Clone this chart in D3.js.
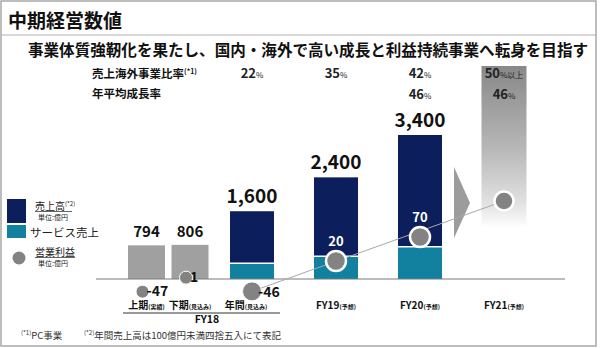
<!DOCTYPE html>
<html><head><meta charset="utf-8">
<script src="https://cdn.jsdelivr.net/npm/d3@7"></script>
<style>
body{margin:0;background:#fff}
svg{display:block}
text{font-family:"Noto Sans CJK JP","Noto Sans",sans-serif}
</style>
</head><body>
<svg id="c" width="600" height="348"></svg>
<script>
// ---------- data ----------
const title = "中期経営数値";
const subtitle = "事業体質強靭化を果たし、国内・海外で高い成長と利益持続事業へ転身を目指す";
const halfLabels = ["上期", "下期"];
const halfNotes = ["(実績)", "(見込み)"];
const halfSales = [794, 806];
const halfProfit = [-47, 1];
const years = ["FY18", "FY19", "FY20", "FY21"];
const yearLabels = ["年間", "FY19", "FY20", "FY21"];
const yearNotes = ["(見込み)", "(予想)", "(予想)", "(予想)"];
const yearSales = [1600, 2400, 3400, null];
const serviceSales = [370, 540, 760, null];
const yearProfit = [-46, 20, 70, 130];
const overseasRatio = [22, 35, 42, 50];
const overseasSuffix = ["%", "%", "%", "%以上"];
const cagr = [null, null, 46, 46];
const footnote1 = "PC事業";
const footnote2 = "年間売上高は100億円未満四捨五入にて表記";

// ---------- colors ----------
const NAVY = "#0c1f5c", TEAL = "#12819f", GRAYBAR = "#a0a0a0", DOT = "#838383";

const svg = d3.select("#c");
const defs = svg.append("defs");
const grad = defs.append("linearGradient").attr("id", "g21")
  .attr("x1", 0).attr("y1", 0).attr("x2", 0).attr("y2", 1);
[[0, "#888888"], [0.5, "#b6b6b6"], [0.85, "#e2e2e2"], [1, "#ffffff"]]
  .forEach(([o, c]) => grad.append("stop").attr("offset", o).attr("stop-color", c));

// frame & title
svg.append("rect").attr("x", 1).attr("y", 1).attr("width", 595).attr("height", 345)
  .attr("fill", "none").attr("stroke", "#a8a8a8").attr("stroke-width", 1.5);
svg.append("text").attr("x", 8).attr("y", 28).attr("font-size", 19).attr("font-weight", 700)
  .attr("fill", "#111").text(title);
svg.append("line").attr("x1", 1).attr("x2", 596).attr("y1", 35).attr("y2", 35)
  .attr("stroke", "#b0b0b0").attr("stroke-width", 1);
svg.append("text").attr("x", 28).attr("y", 56).attr("font-size", 15.5).attr("font-weight", 700)
  .attr("fill", "#111").attr("textLength", 560).attr("lengthAdjust", "spacingAndGlyphs").text(subtitle);

// ---------- scales ----------
const x = d3.scalePoint().domain(years).range([252, 504]);
const xHalf = d3.scalePoint().domain(halfLabels).range([146.5, 190]);
const y = d3.scaleLinear().domain([0, 3400]).range([279, 135]);
const yP = d3.scaleLinear().domain([-50, 0, 20, 70, 130]).range([292.5, 278.5, 261, 237, 201]);
const bw = 44, hbw = 37;
const fmt = d3.format(",");

// FY21 gradient column
svg.append("rect").attr("x", x("FY21") - 22.5).attr("y", 66).attr("width", 45).attr("height", 162)
  .attr("fill", "url(#g21)");

// header rows
svg.append("text").attr("x", 92).attr("y", 78).attr("font-size", 11.5).attr("font-weight", 700)
  .attr("fill", "#111").text("売上海外事業比率")
  .append("tspan").attr("font-size", 7).attr("dy", -4).text("(*1)");
svg.append("text").attr("x", 92).attr("y", 98).attr("font-size", 11.5).attr("font-weight", 700)
  .attr("fill", "#111").text("年平均成長率");

function pct(g, xc, yb, val, suf) {
  const t = g.append("text").attr("x", xc).attr("y", yb).attr("text-anchor", "middle")
    .attr("font-weight", 700).attr("fill", "#222");
  t.append("tspan").attr("font-size", 13).text(val);
  t.append("tspan").attr("font-size", 8).attr("font-weight", 400).text(suf);
}
years.forEach((yr, i) => {
  pct(svg, x(yr), 78, overseasRatio[i], overseasSuffix[i]);
  if (cagr[i] != null) pct(svg, x(yr), 99, cagr[i], "%");
});

// arrow triangle
const ax = (x("FY20") + x("FY21")) / 2 + 1;
svg.append("path").attr("d", `M${ax - 9},167 L${ax + 7},203 L${ax - 9},238 Z`).attr("fill", "#9c9c9c");

// half-year bars
halfSales.forEach((v, i) => {
  const cx = xHalf(halfLabels[i]);
  svg.append("rect").attr("x", cx - hbw / 2).attr("y", y(v)).attr("width", hbw)
    .attr("height", y(0) - y(v)).attr("fill", GRAYBAR);
  svg.append("text").attr("x", cx).attr("y", y(v) - 8).attr("text-anchor", "middle")
    .attr("font-size", 15).attr("font-weight", 700).attr("fill", "#111").text(v);
});

// year bars
years.forEach((yr, i) => {
  const v = yearSales[i];
  if (v == null) return;
  const cx = x(yr);
  svg.append("rect").attr("x", cx - bw / 2).attr("y", y(v)).attr("width", bw)
    .attr("height", y(0) - y(v)).attr("fill", NAVY);
  const s = serviceSales[i];
  svg.append("rect").attr("x", cx - bw / 2).attr("y", y(s)).attr("width", bw)
    .attr("height", y(0) - y(s)).attr("fill", TEAL);
  svg.append("line").attr("x1", cx - bw / 2).attr("x2", cx + bw / 2).attr("y1", y(s)).attr("y2", y(s))
    .attr("stroke", "#fff").attr("stroke-width", 1.5);
  svg.append("text").attr("x", cx).attr("y", y(v) - 8).attr("text-anchor", "middle")
    .attr("font-size", 19).attr("font-weight", 700).attr("fill", "#111").text(fmt(v));
});

// baseline
svg.append("line").attr("x1", 96).attr("x2", 565).attr("y1", y(0)).attr("y2", y(0))
  .attr("stroke", "#7a7a7a").attr("stroke-width", 1.2);

// trend line
svg.append("line").attr("x1", x("FY18")).attr("y1", yP(yearProfit[0]))
  .attr("x2", x("FY21")).attr("y2", yP(yearProfit[3]))
  .attr("stroke", "#a8a8a8").attr("stroke-width", 1);

// profit dots (half)
halfProfit.forEach((v, i) => {
  const cx = xHalf(halfLabels[i]) - 4;
  svg.append("circle").attr("cx", cx).attr("cy", yP(v)).attr("r", 6.5)
    .attr("fill", DOT).attr("stroke", "#fff").attr("stroke-width", 1);
  svg.append("text").attr("x", cx + 4).attr("y", yP(v) + 4).attr("font-size", 14)
    .attr("font-weight", 700).attr("fill", "#111").text(v);
});
// profit dots (years)
years.forEach((yr, i) => {
  const v = yearProfit[i], cx = x(yr), cy = yP(v);
  const big = i === 1 || i === 2;
  svg.append("circle").attr("cx", cx).attr("cy", cy).attr("r", big ? 10 : 9.5)
    .attr("fill", DOT).attr("stroke", "#fff").attr("stroke-width", i === 0 ? 1 : 2.5);
  if (i === 0) {
    svg.append("text").attr("x", cx + 6).attr("y", cy + 5.5).attr("font-size", 14)
      .attr("font-weight", 700).attr("fill", "#111").text(v);
  } else if (big) {
    svg.append("text").attr("x", cx).attr("y", cy - 15).attr("text-anchor", "middle")
      .attr("font-size", 13).attr("font-weight", 700).attr("fill", "#fff").text(v);
  }
});

// category labels: main part + small note, placed side by side, centred as a pair
function cat(cx, yb, main, note) {
  const g = svg.append("g");
  const a = g.append("text").attr("y", yb).attr("font-size", 10).attr("font-weight", 700)
    .attr("fill", "#111").text(main);
  const b = g.append("text").attr("y", yb).attr("font-size", 6).attr("font-weight", 700)
    .attr("fill", "#111").text(note);
  const wa = a.node().getComputedTextLength(), wb = b.node().getComputedTextLength();
  const x0 = cx - (wa + wb) / 2;
  a.attr("x", x0);
  b.attr("x", x0 + wa);
}
halfLabels.forEach((l, i) => cat(xHalf(l), 308.5, l, halfNotes[i]));
years.forEach((yr, i) => cat(x(yr) - (i === 0 ? 6 : 0), 308.5, yearLabels[i], yearNotes[i]));
svg.append("line").attr("x1", 123).attr("x2", 280).attr("y1", 313).attr("y2", 313)
  .attr("stroke", "#333").attr("stroke-width", 1);
svg.append("text").attr("x", 207).attr("y", 323).attr("text-anchor", "middle")
  .attr("font-size", 10.5).attr("font-weight", 700).attr("fill", "#111").text("FY18");

// legend
svg.append("rect").attr("x", 7).attr("y", 199).attr("width", 19).attr("height", 24).attr("fill", NAVY);
svg.append("rect").attr("x", 7).attr("y", 225).attr("width", 19).attr("height", 13).attr("fill", TEAL);
svg.append("circle").attr("cx", 19).attr("cy", 258).attr("r", 6.5).attr("fill", DOT);
const l1 = svg.append("text").attr("x", 35).attr("y", 210).attr("font-size", 10).attr("fill", "#222");
l1.append("tspan").text("売上高");
l1.append("tspan").attr("font-size", 6).attr("dy", -4).text("(*2)");
svg.append("line").attr("x1", 35).attr("x2", 72).attr("y1", 211.5).attr("y2", 211.5).attr("stroke", "#222").attr("stroke-width", 0.7);
svg.append("text").attr("x", 38).attr("y", 219.5).attr("font-size", 7).attr("fill", "#222").text("単位:億円");
svg.append("text").attr("x", 30).attr("y", 237).attr("font-size", 11.5).attr("fill", "#222").text("サービス売上");
svg.append("text").attr("x", 35).attr("y", 256).attr("font-size", 10).attr("fill", "#222").text("営業利益");
svg.append("line").attr("x1", 35).attr("x2", 75).attr("y1", 257.5).attr("y2", 257.5).attr("stroke", "#222").attr("stroke-width", 0.7);
svg.append("text").attr("x", 38).attr("y", 266).attr("font-size", 7).attr("fill", "#222").text("単位:億円");

// footnotes
const f1 = svg.append("text").attr("x", 21).attr("y", 338.5).attr("font-size", 9.5).attr("fill", "#333");
f1.append("tspan").attr("font-size", 6).attr("dy", -4).text("(*1)");
f1.append("tspan").attr("dy", 4).text(footnote1);
const f2 = svg.append("text").attr("x", 84).attr("y", 338.5).attr("font-size", 9.5).attr("fill", "#333");
f2.append("tspan").attr("font-size", 6).attr("dy", -4).text("(*2)");
f2.append("tspan").attr("dy", 4).text(footnote2);
</script>
</body></html>
